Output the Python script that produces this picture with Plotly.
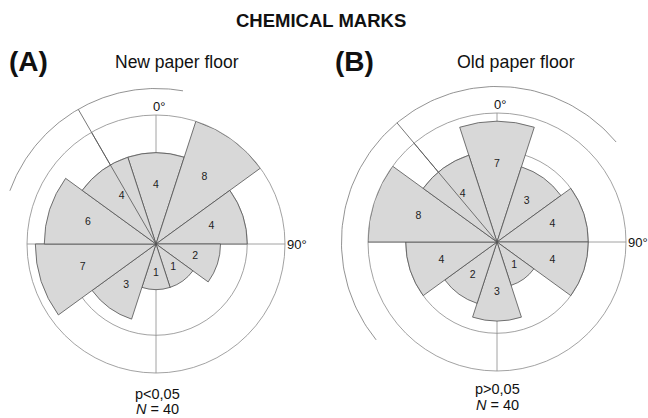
import numpy as np
import plotly.graph_objects as go

# ---------------- data ----------------
sector_centres = [0, 36, 72, 108, 144, 180, 216, 252, 288, 324]   # degrees, clockwise from north
sector_width = 36
counts_new = [4, 8, 4, 2, 1, 1, 3, 7, 6, 4]     # (A) New paper floor
counts_old = [7, 3, 4, 4, 1, 3, 2, 4, 8, 4]     # (B) Old paper floor
ring_counts = [4, 8]                            # reference circles
mean_new = 330
ci_new = [290, 370]
mean_old = 320
ci_old = [231, 410]
ci_radius = 3.41          # radius of mean vector / CI arc (sqrt-count units)
angle_ticks = [0, 90, 180, 270]
angle_labels = ["0°", "90°"]
panel_letters = ["(A)", "(B)"]
panel_titles = ["New paper floor", "Old paper floor"]
p_texts = ["p<0,05", "p>0,05"]
n_totals = [40, 40]
main_title = "CHEMICAL MARKS"

# ---------------- styling / layout ----------------
W, H = 648, 418
FONT = "Liberation Sans"
FILL = "#d8d8d8"
EDGE = "#505050"
GRID = "#8a8a8a"
centres_px = [(156, 244), (497, 242)]
radius_px = 129
r_max = float(np.sqrt(max(ring_counts)))
scale = radius_px / r_max   # px per sqrt-count unit

fig = go.Figure()

panels = [
    ("polar", "x", "y", counts_new, mean_new, ci_new),
    ("polar2", "x2", "y2", counts_old, mean_old, ci_old),
]

for sub, xa, ya, counts, mean_dir, ci in panels:
    r_bars = np.sqrt(np.array(counts, dtype=float))
    fig.add_trace(go.Barpolar(
        r=r_bars, theta=sector_centres, width=[sector_width] * len(counts),
        marker=dict(color=FILL, line=dict(color=EDGE, width=0.8)),
        subplot=sub, showlegend=False, hoverinfo="skip",
    ))
    # sector count labels
    fig.add_trace(go.Scatterpolar(
        r=0.64 * r_bars, theta=sector_centres, mode="text",
        text=[str(c) for c in counts],
        textfont=dict(family=FONT, size=10.5, color="#222222"),
        subplot=sub, showlegend=False, hoverinfo="skip",
    ))
    # mean direction line (inner part, above the bars)
    fig.add_trace(go.Scatterpolar(
        r=[0, ci_radius], theta=[mean_dir, mean_dir], mode="lines",
        line=dict(color="#555555", width=0.8),
        subplot=sub, showlegend=False, hoverinfo="skip",
    ))
    # mean line + confidence arc in a cartesian overlay (extends beyond the rose)
    m = np.deg2rad(mean_dir)
    fig.add_trace(go.Scatter(
        x=[0, ci_radius * np.sin(m)], y=[0, ci_radius * np.cos(m)], mode="lines",
        line=dict(color="#555555", width=0.8), xaxis=xa, yaxis=ya,
        showlegend=False, hoverinfo="skip",
    ))
    arc_t = np.deg2rad(np.linspace(ci[0], ci[1], 120))
    fig.add_trace(go.Scatter(
        x=ci_radius * np.sin(arc_t), y=ci_radius * np.cos(arc_t), mode="lines",
        line=dict(color="#777777", width=0.8), xaxis=xa, yaxis=ya,
        showlegend=False, hoverinfo="skip",
    ))

polar_common = dict(
    bgcolor="rgba(0,0,0,0)",
    radialaxis=dict(range=[0, r_max], tickvals=[float(np.sqrt(ring_counts[0]))],
                    showticklabels=False, ticks="", showline=False,
                    gridcolor=GRID, gridwidth=0.8),
    angularaxis=dict(rotation=90, direction="clockwise",
                     tickvals=angle_ticks, showticklabels=False, ticks="",
                     showline=True, linecolor=GRID, linewidth=0.8,
                     gridcolor=GRID, gridwidth=0.8, layer="below traces"),
)

def dom(cx, cy):
    return dict(x=[(cx - radius_px) / W, (cx + radius_px) / W],
                y=[1 - (cy + radius_px) / H, 1 - (cy - radius_px) / H])

def cart_axes(cx, cy):
    xr = [-cx / scale, (W - cx) / scale]
    yr = [-(H - cy) / scale, cy / scale]
    common = dict(visible=False, showgrid=False, zeroline=False, fixedrange=True, domain=[0, 1])
    return dict(range=xr, **common), dict(range=yr, **common)

xa1, ya1 = cart_axes(*centres_px[0])
xa2, ya2 = cart_axes(*centres_px[1])

fig.update_layout(
    width=W, height=H, margin=dict(l=0, r=0, t=0, b=0),
    paper_bgcolor="white", plot_bgcolor="rgba(0,0,0,0)",
    polar=dict(domain=dom(*centres_px[0]), **polar_common),
    polar2=dict(domain=dom(*centres_px[1]), **polar_common),
    xaxis=xa1, yaxis=ya1, xaxis2=xa2, yaxis2=ya2,
    showlegend=False,
)
fig.layout.yaxis2.anchor = "x2"
fig.layout.xaxis2.anchor = "y2"

# angle labels (placed via the overlay axes, just outside the outer circle)
for xa, ya in [("x", "y"), ("x2", "y2")]:
    fig.add_annotation(text=angle_labels[0], x=0, y=r_max, xref=xa, yref=ya,
                       xanchor="center", yanchor="bottom", xshift=3, yshift=-1,
                       showarrow=False, font=dict(family=FONT, size=13, color="#111111"))
    fig.add_annotation(text=angle_labels[1], x=r_max, y=0, xref=xa, yref=ya,
                       xanchor="left", yanchor="middle", xshift=0,
                       showarrow=False, font=dict(family=FONT, size=13, color="#111111"))

def ann(text, x, y, size, bold=False):
    fig.add_annotation(text=f"<b>{text}</b>" if bold else text,
                       x=x / W, y=1 - y / H, xref="paper", yref="paper",
                       xanchor="center", yanchor="middle", showarrow=False,
                       font=dict(family=FONT, size=size, color="#111111"))

ann(main_title, 321, 21, 18.5, bold=True)
ann(panel_letters[0], 28, 61, 28, bold=True)
ann(panel_titles[0], 177, 62, 17.5)
ann(panel_letters[1], 354, 61, 28, bold=True)
ann(panel_titles[1], 516, 62, 17.8)
ann(p_texts[0], 157, 394, 14.5)
ann(f"<i>N</i> = {n_totals[0]}", 157, 409, 14.5)
ann(p_texts[1], 497, 389, 14.5)
ann(f"<i>N</i> = {n_totals[1]}", 497, 405, 14.5)

fig.write_html(
    "out.html",
    config={"displayModeBar": False, "staticPlot": True},
    post_script=("document.documentElement.style.overflow='hidden';"
                 "document.body.style.margin='0';"
                 "document.body.style.overflow='hidden';"),
)
